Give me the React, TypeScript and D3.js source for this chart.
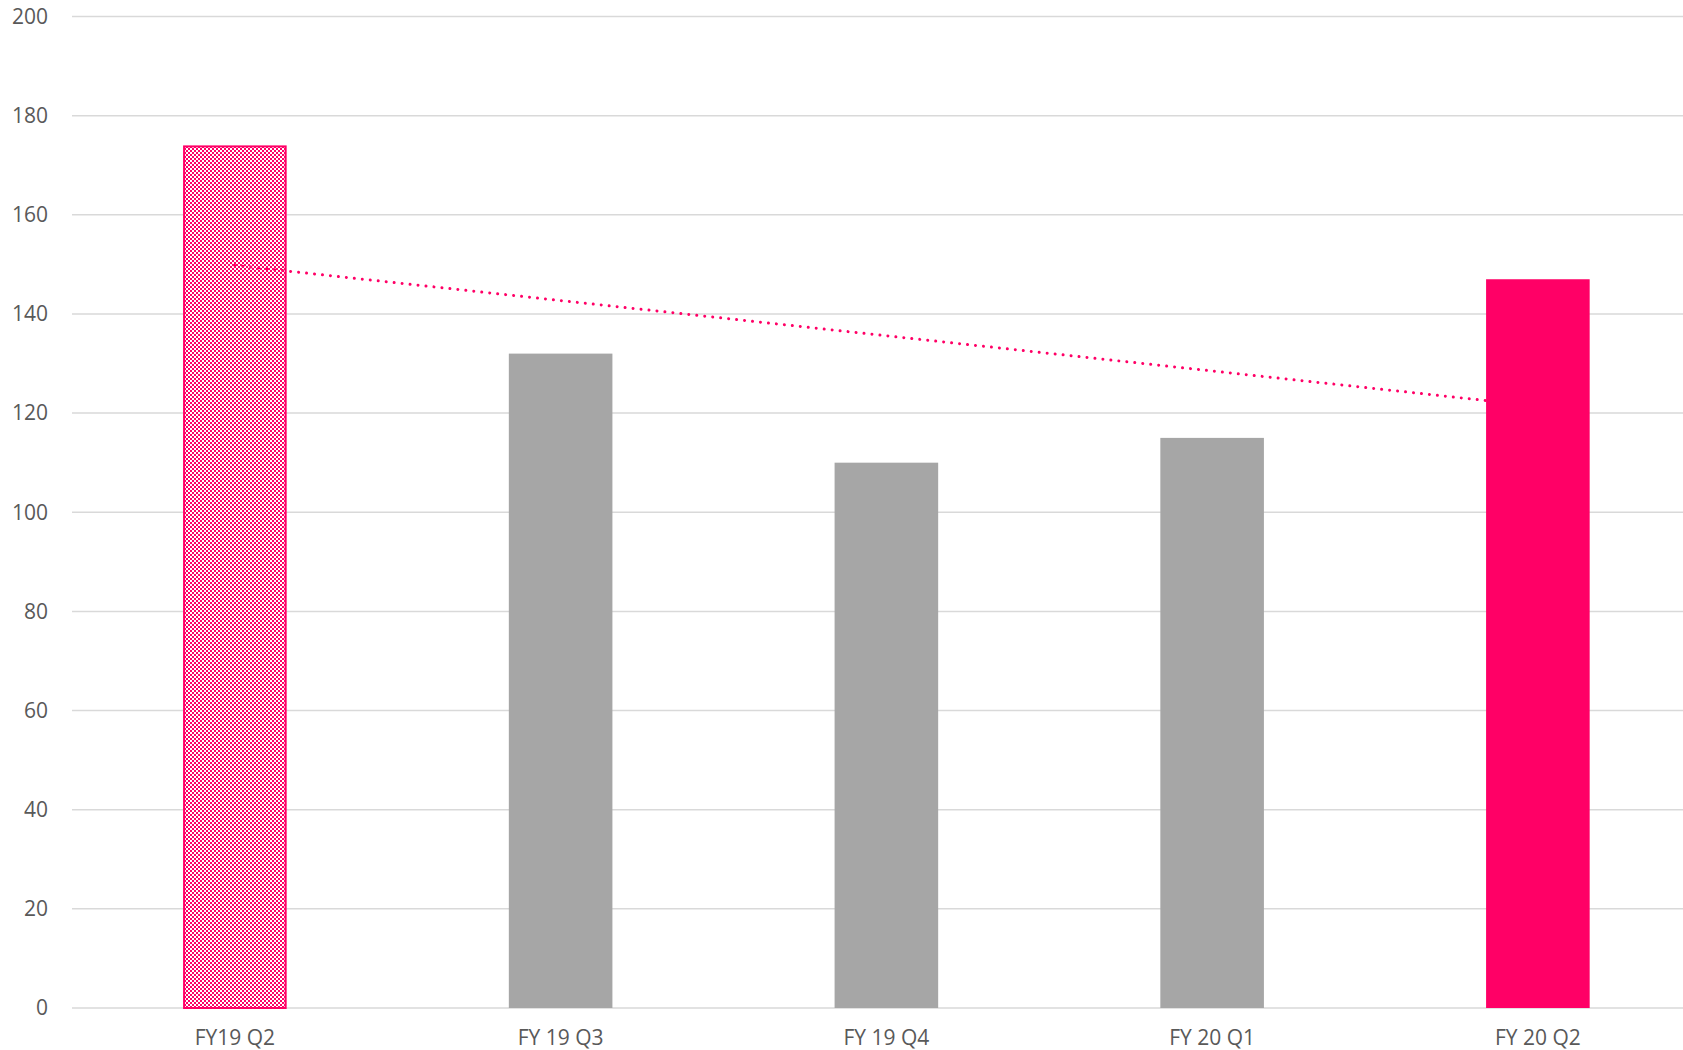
import React from "react";
import * as d3 from "d3";

const categories = ["FY19 Q2", "FY 19 Q3", "FY 19 Q4", "FY 20 Q1", "FY 20 Q2"];
const values = [174, 132, 110, 115, 147];
const barKinds = ["pattern", "gray", "gray", "gray", "pink"];
const yTicks = [0, 20, 40, 60, 80, 100, 120, 140, 160, 180, 200];

const W = 1683;
const H = 1050;
const PINK = "#FF0066";
const GRAY = "#A6A6A6";
const GRID = "#D9D9D9";
const TEXT = "#595959";
const FONT = "'Open Sans', 'Noto Sans', sans-serif";

export default function App() {
  const x = d3.scaleBand<string>().domain(categories).range([72, 1700.75]).paddingInner(0.682).paddingOuter(0.341);
  const y = d3.scaleLinear().domain([0, 200]).range([1008, 16.5]);

  // linear trendline (least squares) from the data
  const xs = values.map((_, i) => i + 1);
  const mx = d3.mean(xs)!;
  const my = d3.mean(values)!;
  const slope = d3.sum(xs.map((xi, i) => (xi - mx) * (values[i] - my))) / d3.sum(xs.map((xi) => (xi - mx) ** 2));
  const icpt = my - slope * mx;
  const trend = xs.map((xi, i) => ({ cx: x(categories[i])! + x.bandwidth() / 2, v: icpt + slope * xi }));
  const line = d3.line<{ cx: number; v: number }>().x((d) => d.cx).y((d) => y(d.v));

  return (
    <svg width={W} height={H} style={{ position: "absolute", left: 0, top: 0, background: "#fff" }} fontFamily={FONT}>
      <defs>
        <pattern id="checker" width={4} height={4} patternUnits="userSpaceOnUse">
          <rect width={4} height={4} fill="#fff" />
          <rect x={0} y={0} width={2} height={2} fill={PINK} />
          <rect x={2} y={2} width={2} height={2} fill={PINK} />
        </pattern>
      </defs>
      {yTicks.map((t) => (
        <g key={t}>
          <line x1={72} x2={W} y1={y(t)} y2={y(t)} stroke={GRID} strokeWidth={1.5} />
          <text x={48} y={y(t)} dy="0.35em" textAnchor="end" fontSize={21} fill={TEXT}>
            {t}
          </text>
        </g>
      ))}
      {categories.map((c, i) => {
        const kind = barKinds[i];
        const bx = x(c)!;
        const bw = x.bandwidth();
        const top = y(values[i]);
        const h = y(0) - top;
        if (kind === "pattern") {
          return (
            <rect key={c} x={bx + 1} y={top + 1} width={bw - 2} height={h - 1} fill="url(#checker)" stroke={PINK} strokeWidth={2} />
          );
        }
        return <rect key={c} x={bx} y={top} width={bw} height={h} fill={kind === "pink" ? PINK : GRAY} />;
      })}
      <path d={line([trend[0], trend[trend.length - 1]])!} fill="none" stroke={PINK} strokeWidth={3} strokeDasharray="0.01 8" strokeLinecap="round" />
      {categories.map((c) => (
        <text key={c} x={x(c)! + x.bandwidth() / 2} y={1045} textAnchor="middle" fontSize={21} fill={TEXT}>
          {c}
        </text>
      ))}
    </svg>
  );
}
